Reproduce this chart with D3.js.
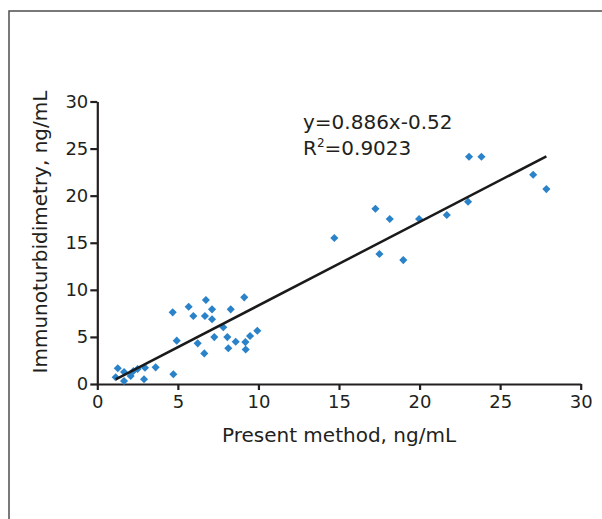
<!DOCTYPE html>
<html>
<head>
<meta charset="utf-8">
<script src="https://cdn.jsdelivr.net/npm/d3@7"></script>
<style>
  body { margin: 0; background: #fff; }
  text { font-family: "DejaVu Sans", sans-serif; fill: #231f20; }
</style>
</head>
<body>
<div id="chart"></div>
<script>
// Data
var presentMethod = [1.27, 1.14, 1.66, 1.66, 2.07, 2.24, 2.50, 2.96, 2.90, 3.62,
  4.72, 4.68, 4.93, 5.67, 5.96, 6.23, 6.74, 6.68, 6.64, 7.12,
  7.12, 7.26, 7.82, 8.07, 8.28, 8.13, 8.59, 9.12, 9.19, 9.21,
  9.48, 9.93, 14.71, 17.26, 17.51, 18.15, 18.99, 19.97, 21.69, 23.01,
  23.07, 23.84, 27.05, 27.87];
var immuno = [1.67, 0.71, 1.27, 0.32, 0.85, 1.38, 1.59, 1.73, 0.50, 1.77,
  1.03, 7.61, 4.60, 8.20, 7.22, 4.32, 8.92, 7.22, 3.25, 7.93,
  6.87, 4.98, 6.02, 4.98, 7.93, 3.79, 4.49, 9.20, 4.45, 3.66,
  5.10, 5.65, 15.50, 18.61, 13.80, 17.52, 13.16, 17.52, 17.94, 19.35,
  24.13, 24.13, 22.22, 20.70];
var tickValues = [0, 5, 10, 15, 20, 25, 30];
var slope = 0.886;
var intercept = -0.52;

var svgWidth = 602;
var svgHeight = 519;

var svg = d3.select("#chart")
  .append("svg")
  .attr("width", svgWidth)
  .attr("height", svgHeight);

// Frame open to the right and bottom
svg.append("rect")
  .attr("x", 9)
  .attr("y", 11)
  .attr("width", 800)
  .attr("height", 800)
  .attr("fill", "none")
  .attr("stroke", "#4d4d4d")
  .attr("stroke-width", 1.5);

var xScale = d3.scaleLinear().domain([0, 30]).range([97.3, 580.7]);
var yScale = d3.scaleLinear().domain([0, 30]).range([384, 101.5]);

var points = presentMethod.map(function(x, i) { return { x: x, y: immuno[i] }; });

// Axes
var xAxis = svg.append("g")
  .attr("transform", "translate(0," + yScale(0) + ")")
  .call(d3.axisBottom(xScale).tickValues(tickValues).tickSize(6).tickPadding(5).tickSizeOuter(0));

var yAxis = svg.append("g")
  .attr("transform", "translate(" + xScale(0) + ",0)")
  .call(d3.axisLeft(yScale).tickValues(tickValues).tickSize(7).tickPadding(2).tickSizeOuter(0));

[xAxis, yAxis].forEach(function(ax) {
  ax.select(".domain").attr("stroke", "#231f20").attr("stroke-width", 2.2);
  ax.selectAll(".tick line").attr("stroke", "#231f20").attr("stroke-width", 2.2);
  ax.selectAll(".tick text")
    .attr("font-size", "18px")
    .style("font-family", "'DejaVu Sans', sans-serif")
    .attr("fill", "#231f20");
});

// Points
svg.selectAll("path.pt")
  .data(points)
  .enter()
  .append("path")
  .attr("class", "pt")
  .attr("d", d3.symbol().type(d3.symbolDiamond2).size(42))
  .attr("transform", function(d) { return "translate(" + xScale(d.x) + "," + yScale(d.y) + ")"; })
  .attr("fill", "#2a82c9");

// Trend line
var xExt = d3.extent(presentMethod);
svg.append("line")
  .attr("x1", xScale(xExt[0]))
  .attr("y1", yScale(slope * xExt[0] + intercept))
  .attr("x2", xScale(xExt[1]))
  .attr("y2", yScale(slope * xExt[1] + intercept))
  .attr("stroke", "#1a1a1a")
  .attr("stroke-width", 2.5);

// Equation
svg.append("text")
  .attr("x", 303)
  .attr("y", 129)
  .attr("font-size", "20px")
  .text("y=0.886x-0.52");

var r2 = svg.append("text")
  .attr("x", 303)
  .attr("y", 155)
  .attr("font-size", "20px");
r2.append("tspan").text("R");
r2.append("tspan").attr("font-size", "12px").attr("dy", -8).text("2");
r2.append("tspan").attr("dy", 8).text("=0.9023");

// Axis titles
svg.append("text")
  .attr("x", xScale(15))
  .attr("y", 442)
  .attr("text-anchor", "middle")
  .attr("font-size", "20px")
  .text("Present method, ng/mL");

svg.append("text")
  .attr("transform", "translate(47," + 232 + ") rotate(-90)")
  .attr("text-anchor", "middle")
  .attr("font-size", "20px")
  .text("Immunoturbidimetry, ng/mL");
</script>
</body>
</html>
